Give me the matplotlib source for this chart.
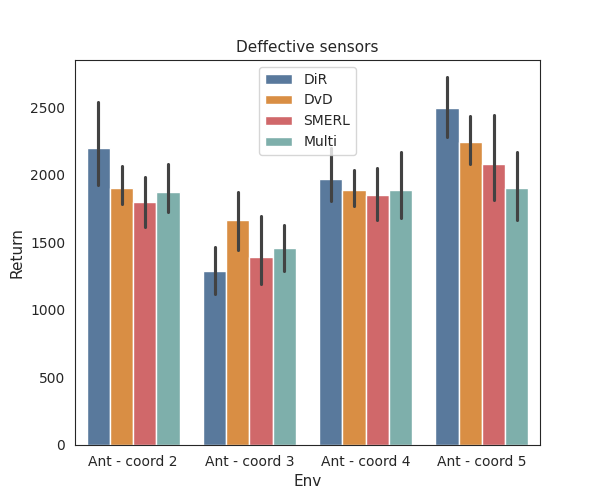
import matplotlib
matplotlib.use("Agg")
import matplotlib.pyplot as plt
import numpy as np
import seaborn as sns

sns.set_style("white")

envs = ["Ant - coord 2", "Ant - coord 3", "Ant - coord 4", "Ant - coord 5"]
methods = ["DiR", "DvD", "SMERL", "Multi"]

# mean returns per method, one value per env
dir_mean = [2202, 1285, 1967, 2498]
dvd_mean = [1901, 1669, 1884, 2241]
smerl_mean = [1802, 1388, 1847, 2083]
multi_mean = [1876, 1462, 1891, 1906]

# confidence interval (low, high) per env
dir_ci = [(1923, 2539), (1117, 1467), (1807, 2200), (2280, 2724)]
dvd_ci = [(1783, 2064), (1442, 1871), (1768, 2039), (2078, 2433)]
smerl_ci = [(1615, 1985), (1191, 1694), (1664, 2054), (1817, 2443)]
multi_ci = [(1723, 2078), (1285, 1630), (1679, 2169), (1664, 2169)]

means = [dir_mean, dvd_mean, smerl_mean, multi_mean]
cis = [dir_ci, dvd_ci, smerl_ci, multi_ci]
colors = ["#4e79a7", "#f28e2b", "#e15759", "#76b7b2"]

fig, ax = plt.subplots(figsize=(6, 5), dpi=100)

x = np.arange(len(envs))
w = 0.8 / len(methods)
for i, m in enumerate(methods):
    pos = x - 0.4 + w / 2 + i * w
    ax.bar(pos, means[i], width=w, color=sns.desaturate(colors[i], 0.75),
           edgecolor="white", linewidth=1, label=m)
    for p, (lo, hi) in zip(pos, cis[i]):
        ax.plot([p, p], [lo, hi], color=".26", linewidth=2.25,
                solid_capstyle="round", zorder=3)

ax.set_xticks(x)
ax.set_xticklabels(envs)
ax.set_xlim(-0.5, 3.5)
ax.set_ylim(0, 2850)
ax.set_xlabel("Env", fontsize=11)
ax.set_ylabel("Return", fontsize=11)
ax.set_title("Deffective sensors", fontsize=11)
ax.legend(loc="upper center")

fig.savefig("out.png")
